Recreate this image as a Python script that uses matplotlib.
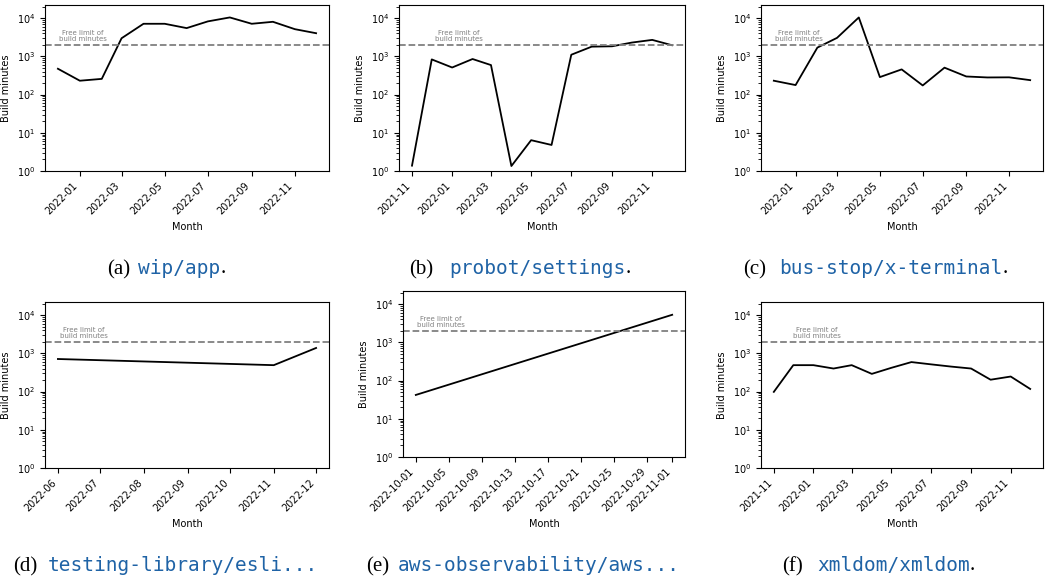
import matplotlib
matplotlib.use('Agg')
import matplotlib.pyplot as plt
import matplotlib.transforms as mtrans
import numpy as np

FREE_LIMIT = 2000

a_dates = ['2021-12-01', '2022-01-01', '2022-02-01', '2022-03-01', '2022-04-01', '2022-05-01', '2022-06-01',
           '2022-07-01', '2022-08-01', '2022-09-01', '2022-10-01', '2022-11-01', '2022-12-01']
a_values = [473, 230, 257, 2970, 7100, 7100, 5470, 8200, 10400, 7100, 8000, 5130, 4020]

b_dates = ['2021-11-01', '2021-12-01', '2022-01-01', '2022-02-01', '2022-03-01', '2022-04-01', '2022-05-01',
           '2022-06-01', '2022-07-01', '2022-08-01', '2022-09-01', '2022-10-01', '2022-11-01', '2022-12-01']
b_values = [1.38, 830, 510, 850, 590, 1.35, 6.4, 4.8, 1100, 1790, 1830, 2290, 2690, 1950]

c_dates = ['2021-12-01', '2022-01-01', '2022-02-01', '2022-03-01', '2022-04-01', '2022-05-01', '2022-06-01',
           '2022-07-01', '2022-08-01', '2022-09-01', '2022-10-01', '2022-11-01', '2022-12-01']
c_values = [230, 177, 1690, 3040, 10400, 286, 455, 173, 505, 297, 280, 282, 238]

d_dates = ['2022-06-01', '2022-11-01', '2022-12-01']
d_values = [710, 490, 1380]

e_dates = ['2022-10-01', '2022-11-01']
e_values = [42, 5250]

f_dates = ['2021-11-01', '2021-12-01', '2022-01-01', '2022-02-01', '2022-03-01', '2022-04-01', '2022-05-01',
           '2022-06-01', '2022-07-01', '2022-08-01', '2022-09-01', '2022-10-01', '2022-11-01', '2022-12-01']
f_values = [98, 490, 490, 400, 490, 290, 417, 590, 515, 450, 400, 204, 247, 117]

caption_letters = ['(a)', '(b)', '(c)', '(d)', '(e)', '(f)']
caption_names = ['wip/app', 'probot/settings', 'bus-stop/x-terminal',
                 'testing-library/esli...', 'aws-observability/aws...', 'xmldom/xmldom']
caption_ends = ['.', '.', '.', '', '', '.']

series = [(a_dates, a_values), (b_dates, b_values), (c_dates, c_values),
          (d_dates, d_values), (e_dates, e_values), (f_dates, f_values)]

W, H = 1048, 579
fig = plt.figure(figsize=(W / 100, H / 100), dpi=100)

# axes boxes in pixels: left, top, right, bottom
boxes = [(45, 5, 329, 171), (399, 5, 685, 171), (761, 5, 1043, 171),
         (45, 302, 329, 468), (403, 291, 685, 457), (761, 302, 1043, 468)]
label_x = [0.134, 0.21, 0.135, 0.137, 0.135, 0.198]
# caption: letter x, code x, baseline y (pixels)
cap_pos = [(107, 138, 274), (409, 449, 274), (743, 779, 274),
           (13, 48, 571), (366, 398, 571), (782, 817, 571)]

for i, ((dates, vals), (l, t, r, b)) in enumerate(zip(series, boxes)):
    ax = fig.add_axes([l / W, 1 - b / H, (r - l) / W, (b - t) / H])
    x = np.array(dates, dtype='datetime64[D]')
    ax.plot(x, vals, color='black', lw=1.3)
    ax.axhline(FREE_LIMIT, color='#808080', ls='--', lw=1.3)
    ax.set_yscale('log')
    ax.set_ylim(1, 2.2e4)
    tr = mtrans.blended_transform_factory(ax.transAxes, ax.transData)
    ax.text(label_x[i], FREE_LIMIT * 1.2, 'Free limit of\nbuild minutes', transform=tr,
            ha='center', va='bottom', fontsize=5, color='#808080', linespacing=1.0)
    ax.set_ylabel('Build minutes', fontsize=7)
    ax.set_xlabel('Month', fontsize=7)
    ax.tick_params(labelsize=7)
    for lab in ax.get_xticklabels():
        lab.set_rotation(45)
        lab.set_ha('right')

    lx, cx, by = cap_pos[i]
    fig.text(lx / W, 1 - by / H, caption_letters[i], family='Liberation Serif',
             fontsize=15, va='baseline', ha='left', color='black')
    code = fig.text(cx / W, 1 - by / H, caption_names[i], family='DejaVu Sans Mono', fontsize=14,
                    color='#1f63a6', va='baseline', ha='left')
    if caption_ends[i]:
        fig.add_artist(matplotlib.text.Annotation(
            caption_ends[i], xy=(1, 0), xycoords=code, va='bottom', ha='left',
            family='Liberation Serif', fontsize=15, color='black'))

fig.savefig('out.png', dpi=100)
